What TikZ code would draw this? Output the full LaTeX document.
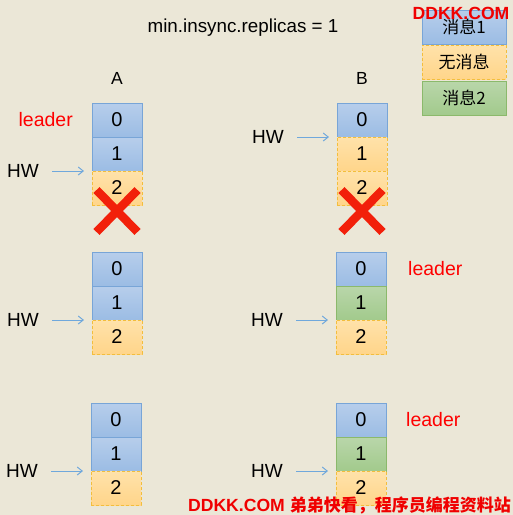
\documentclass[tikz,border=0pt]{standalone}
\usepackage{fontspec}
\setmainfont{Liberation Sans}
\newfontfamily\cjk{Noto Sans CJK SC}
\usetikzlibrary{positioning,arrows.meta}

\definecolor{paper}{RGB}{235,231,215}
\definecolor{bluetop}{RGB}{183,206,235}
\definecolor{bluebot}{RGB}{155,188,228}
\definecolor{blueline}{RGB}{120,165,215}
\definecolor{orangetop}{RGB}{255,226,170}
\definecolor{orangebot}{RGB}{255,213,138}
\definecolor{orangeline}{RGB}{243,190,60}
\definecolor{greentop}{RGB}{185,214,170}
\definecolor{greenbot}{RGB}{162,202,140}
\definecolor{greenline}{RGB}{139,185,107}
\definecolor{hwblue}{RGB}{111,168,220}
\definecolor{crossred}{RGB}{242,32,10}
\definecolor{markred}{RGB}{240,0,0}

\begin{document}
\begin{tikzpicture}[x=1pt,y=-1pt]

\tikzset{cell/.style={minimum width=50pt,minimum height=34pt,inner sep=0pt,outer sep=0pt,line width=0.8pt,font=\fontsize{20}{22}\selectfont},
legendcell/.style={cell,minimum width=84pt,font=\cjk\fontsize{17}{19}\selectfont},
one/.style={draw=blueline,top color=bluetop,bottom color=bluebot},
none/.style={draw=orangeline,dash pattern=on 3pt off 2pt,top color=orangetop,bottom color=orangebot},
two/.style={draw=greenline,top color=greentop,bottom color=greenbot},
labeltext/.style={inner sep=2pt,font=\fontsize{19}{21}\selectfont},
leadertext/.style={labeltext,text=red,font=\fontsize{19.5}{21}\selectfont},
hwarrow/.style={hwblue,line width=1pt,-{Straight Barb[length=5pt,width=8pt]},shorten <=11pt,shorten >=8pt},
cross/.style={crossred,line width=8.5pt},
marktext/.style={inner sep=0pt,text=markred,font=\bfseries\fontsize{17.6}{19}\selectfont}}

\useasboundingbox (0,0) rectangle (513,515);
\fill[paper] (0,0) rectangle (513,515);

\node[labeltext,font=\fontsize{18.8}{21}\selectfont] (title) at (243,28) {min.insync.replicas = 1};
\node[labeltext,font=\fontsize{17.5}{20}\selectfont] (nameA) at (117,78) {A};
\node[labeltext,font=\fontsize{17.5}{20}\selectfont] (nameB) at (362,78) {B};

\foreach \s/\x/\y/\p/\q/\r in {a1/117/103/one/one/none, b1/362/103/one/none/none, a2/117/252/one/one/none, b2/361/252/one/two/none, a3/116/403/one/one/none, b3/361/403/one/two/none}
{
    \node[cell,\p,anchor=north] (\s-0) at (\x,\y) {0};
    \node[cell,\q,below=0pt of \s-0] (\s-1) {1};
    \node[cell,\r,below=0pt of \s-1] (\s-2) {2};
}

\foreach \s/\k in {a1/1, b1/0, a2/1, b2/1, a3/1, b3/1}
{
    \node[labeltext,left=51pt of \s-\k.south west] (hw\s) {HW};
    \draw[hwarrow] (hw\s) -- (\s-\k.south west);
}

\node[leadertext,left=17pt of a1-0] (leadera1) {leader};
\node[leadertext,right=20pt of b2-0] (leaderb2) {leader};
\node[leadertext,right=18pt of b3-0] (leaderb3) {leader};

\foreach \s in {a1,b1}
{
    \draw[cross] ([shift={(-20.5,-15)}]\s-2.south) -- ([shift={(20.5,27)}]\s-2.south);
    \draw[cross] ([shift={(20.5,-15)}]\s-2.south) -- ([shift={(-20.5,27)}]\s-2.south);
}

\node[legendcell,one,anchor=north] (legend1) at (464,10) {消息1};
\node[legendcell,none,below=1pt of legend1] (legend2) {无消息};
\node[legendcell,two,below=2pt of legend2] (legend3) {消息2};

\node[marktext] (mark1) at (461,13) {DDKK.COM};
\node[marktext,anchor=east] (mark2) at (511,505) {DDKK.COM {\cjk\fontsize{17}{19}\selectfont 弟弟快看，程序员编程资料站}};

\end{tikzpicture}
\end{document}
